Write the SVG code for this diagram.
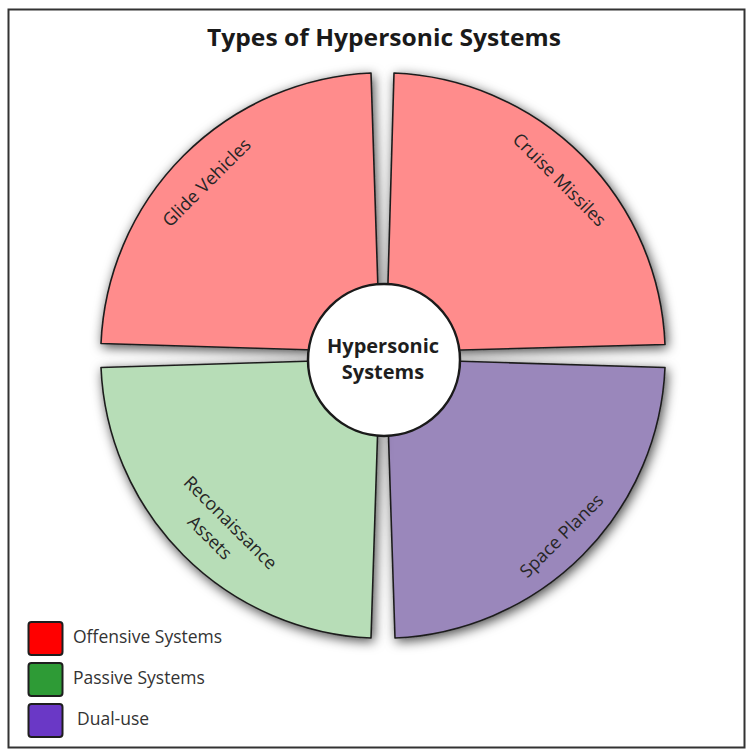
<svg xmlns="http://www.w3.org/2000/svg" width="749" height="752" viewBox="0 0 749 752">
  <defs>
    <filter id="shadow" x="-20%" y="-20%" width="140%" height="140%">
      <feDropShadow dx="2" dy="3" stdDeviation="6" flood-color="#000" flood-opacity="0.7"/>
    </filter>
    <style>
      .wedge { stroke: #1e1e1e; stroke-width: 1.6; stroke-linejoin: round; filter: url(#shadow); }
      .red { fill: #ff8c8c; }
      .green { fill: #b7ddb7; }
      .purple { fill: #9a87bb; }
      .lbl { font-family: "Open Sans", "Liberation Sans", sans-serif; font-size: 18px; fill: #262626; text-anchor: middle; }
      .leg { font-family: "Open Sans", "Liberation Sans", sans-serif; font-size: 17.5px; fill: #333; }
      .sw { stroke: #1e1e1e; stroke-width: 2; }
    </style>
  </defs>
  <rect x="0" y="0" width="749" height="752" fill="#ffffff"/>
  <rect x="8.5" y="9.5" width="736" height="738" fill="#ffffff" stroke="#333" stroke-width="2"/>

  <text x="384" y="46" font-family="'Open Sans', 'Liberation Sans', sans-serif" font-size="24" font-weight="bold" fill="#1a1a1a" text-anchor="middle" textLength="354" lengthAdjust="spacingAndGlyphs">Types of Hypersonic Systems</text>

  <g id="glide-vehicles">
    <path class="wedge red" d="M380,352 L101,343.5 A283,283 0 0 1 371,73 Z"/>
    <text class="lbl" transform="translate(211,187) rotate(-45)">Glide Vehicles</text>
  </g>
  <g id="cruise-missiles">
    <path class="wedge red" d="M386,352 L394,73 A283,283 0 0 1 665,344.5 Z"/>
    <text class="lbl" transform="translate(555,184) rotate(45)">Cruise Missiles</text>
  </g>
  <g id="space-planes">
    <path class="wedge purple" d="M386,359 L665,367.5 A283,283 0 0 1 395,638 Z"/>
    <text class="lbl" transform="translate(566,540) rotate(-45)">Space Planes</text>
  </g>
  <g id="reconnaissance-assets">
    <path class="wedge green" d="M380,359 L371,638 A283,283 0 0 1 101,367.5 Z"/>
    <text class="lbl" transform="translate(226,527) rotate(45)"><tspan x="0" y="0">Reconaissance</tspan><tspan x="-4" y="25">Assets</tspan></text>
  </g>

  <g id="hypersonic-systems">
    <circle cx="384" cy="360" r="76" fill="#ffffff" stroke="#1a1a1a" stroke-width="2.5"/>
    <text font-family="'Open Sans', 'Liberation Sans', sans-serif" font-size="20" font-weight="bold" fill="#1e1e1e" text-anchor="middle"><tspan x="383" y="353">Hypersonic</tspan><tspan x="383" y="379">Systems</tspan></text>
  </g>

  <g id="connectors"></g>

  <g id="legend">
    <g id="legend-offensive">
      <rect class="sw" x="28.5" y="622" width="34" height="33" rx="3" fill="#ff0000"/>
      <text class="leg" x="73" y="643">Offensive Systems</text>
    </g>
    <g id="legend-passive">
      <rect class="sw" x="28.5" y="663" width="34" height="33" rx="3" fill="#2e9b36"/>
      <text class="leg" x="73" y="684">Passive Systems</text>
    </g>
    <g id="legend-dual">
      <rect class="sw" x="28.5" y="704" width="34" height="33" rx="3" fill="#6a38c6"/>
      <text class="leg" x="77" y="725">Dual-use</text>
    </g>
  </g>
</svg>
